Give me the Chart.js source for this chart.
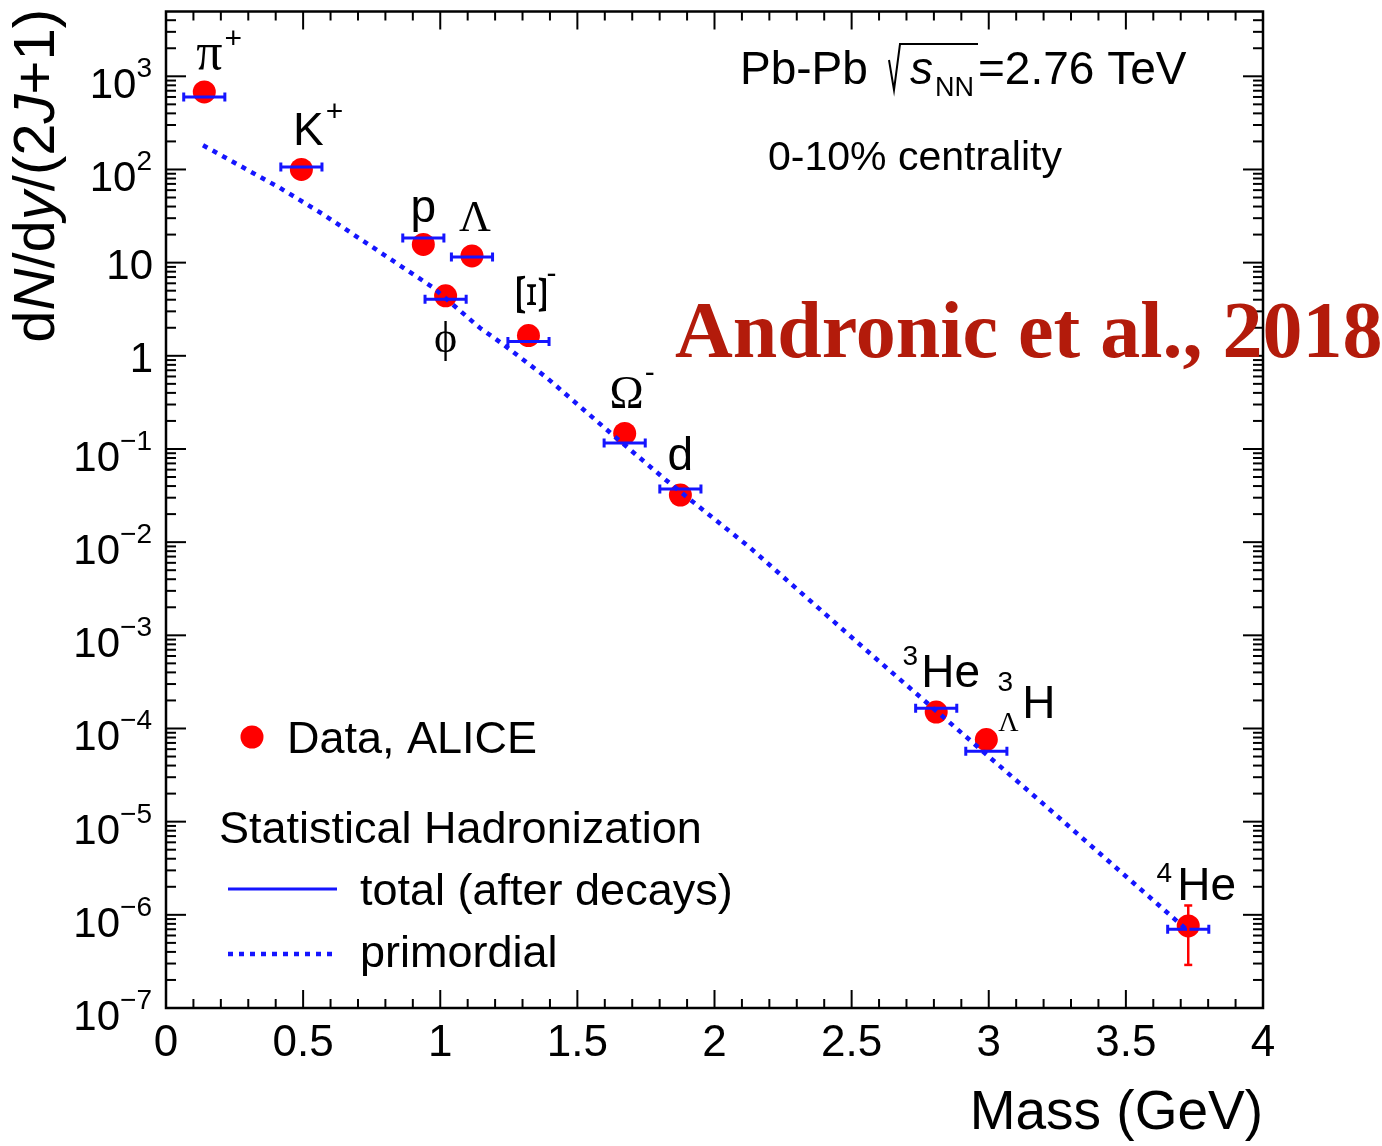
<!DOCTYPE html>
<html lang="en">
<head>
<meta charset="UTF-8">
<title>Hadron yields vs mass - Pb-Pb 2.76 TeV</title>
<script src="https://cdn.jsdelivr.net/npm/chart.js@4"></script>
<style>
  html, body { margin: 0; padding: 0; background: #fff; }
  #wrap { width: 1382px; height: 1146px; position: relative; }
</style>
</head>
<body>
<div id="wrap"><canvas id="yields"></canvas></div>
<script>
// species, mass (GeV) and yield dN/dy/(2J+1)
const particles = ['π+', 'K+', 'p', 'ϕ', 'Λ', 'Ξ-', 'Ω-', 'd', '3He', '3ΛH', '4He'];
const mass = [0.1396, 0.4937, 0.9383, 1.0195, 1.1157, 1.3217, 1.6725, 1.8756, 2.8084, 2.9912, 3.7274];
const dataYield = [679, 100, 15.7, 4.4, 11.8, 1.65, 0.147, 0.032, 1.5e-4, 7.6e-5, 7.6e-7];
const errLow = [null, null, null, null, null, null, null, null, null, null, 2.9e-7];
const errHigh = [null, null, null, null, null, null, null, null, null, null, 1.26e-6];
// statistical hadronization model, total after decays
const modelTotal = [600, 106, 18.4, 4.05, 11.5, 1.42, 0.116, 0.0373, 1.65e-4, 5.7e-5, 7.0e-7];
const barHalfWidth = 0.075;
// primordial curve
const primMass = [0.135, 0.415, 0.573, 0.792, 0.974, 1.144, 1.229, 1.387, 1.618, 1.825, 2.128, 2.54, 3.197, 3.72];
const primYield = [182, 63.5, 33, 12.3, 5.4, 2.0, 1.33, 0.586, 0.151, 0.0458, 8.8e-3, 7.5e-4, 1.57e-5, 7.0e-7];
// axes
const xTicks = [0, 0.5, 1, 1.5, 2, 2.5, 3, 3.5, 4];
const yDecades = [-7, -6, -5, -4, -3, -2, -1, 0, 1, 2, 3];

const BLUE = '#1515ff';
const RED = '#ff0000';
const SANS = '"Liberation Sans", Arial, Helvetica, sans-serif';
const SERIF = '"Liberation Serif", "Times New Roman", serif';

const totalSegments = [];
mass.forEach((m, i) => {
  totalSegments.push({x: m - barHalfWidth, y: modelTotal[i]});
  totalSegments.push({x: m + barHalfWidth, y: modelTotal[i]});
  totalSegments.push({x: m, y: null});
});

function txt(ctx, s, x, y, font, align) {
  ctx.font = font;
  ctx.textAlign = align || 'center';
  ctx.fillText(s, x, y);
}

// draw a row of text pieces with different fonts
function rich(ctx, parts, x, y, align) {
  ctx.textAlign = 'left';
  let w = 0;
  parts.forEach(p => { ctx.font = p.f; p.w = ctx.measureText(p.t).width; w += p.w; });
  let cx = align === 'right' ? x - w : align === 'center' ? x - w / 2 : x;
  parts.forEach(p => { ctx.font = p.f; ctx.fillText(p.t, cx, y + (p.dy || 0)); cx += p.w; });
}

function seg(ctx, x1, y1, x2, y2) {
  ctx.beginPath(); ctx.moveTo(x1, y1); ctx.lineTo(x2, y2); ctx.stroke();
}

const rootStyle = {
  id: 'rootStyle',
  afterDatasetsDraw(chart) {
    const {ctx, scales: {x, y}} = chart;
    ctx.save();
    ctx.strokeStyle = RED;
    ctx.lineWidth = 2.5;
    mass.forEach((m, i) => {
      if (errLow[i] == null) return;
      const px = x.getPixelForValue(m);
      const y1 = y.getPixelForValue(errLow[i]);
      const y2 = y.getPixelForValue(errHigh[i]);
      seg(ctx, px, y1, px, y2);
      seg(ctx, px - 4, y1, px + 4, y1);
      seg(ctx, px - 4, y2, px + 4, y2);
    });
    ctx.restore();
  },
  afterDraw(chart) {
    const {ctx, chartArea: a, scales: {x, y}} = chart;
    ctx.save();
    ctx.fillStyle = '#000';
    ctx.strokeStyle = '#000';
    ctx.textBaseline = 'alphabetic';

    // frame
    ctx.lineWidth = 2.5;
    ctx.strokeRect(a.left, a.top, a.right - a.left, a.bottom - a.top);

    // ticks, inside on all four sides
    ctx.lineWidth = 2;
    for (let k = 0; k <= 40; k++) {
      const px = x.getPixelForValue(k / 10);
      const len = k % 5 === 0 ? 18 : 9;
      seg(ctx, px, a.bottom, px, a.bottom - len);
      seg(ctx, px, a.top, px, a.top + len);
    }
    yDecades.forEach(d => {
      for (let k = 1; k <= 9; k++) {
        const v = k * Math.pow(10, d);
        if (v > y.max) break;
        const py = y.getPixelForValue(v);
        const len = k === 1 ? 20 : 10;
        seg(ctx, a.left, py, a.left + len, py);
        seg(ctx, a.right, py, a.right - len, py);
      }
    });

    // tick labels
    xTicks.forEach(v => {
      txt(ctx, String(v), x.getPixelForValue(v), 1056, '44px ' + SANS, 'center');
    });
    yDecades.forEach(d => {
      const py = y.getPixelForValue(Math.pow(10, d));
      if (d === 0) rich(ctx, [{t: '1', f: '42px ' + SANS}], 153, py + 16, 'right');
      else if (d === 1) rich(ctx, [{t: '10', f: '42px ' + SANS}], 153, py + 16, 'right');
      else rich(ctx, [
        {t: '10', f: '42px ' + SANS},
        {t: d < 0 ? '\u2212' + (-d) : String(d), f: '28px ' + SANS, dy: -21}
      ], 152, py + 22, 'right');
    });

    // axis titles
    rich(ctx, [{t: 'Mass (GeV)', f: '55px ' + SANS}], 1263, 1129, 'right');
    ctx.save();
    ctx.translate(54, 9);
    ctx.rotate(-Math.PI / 2);
    const f = '58px ' + SANS, fi = 'italic 58px ' + SANS;
    rich(ctx, [{t: 'd', f}, {t: 'N', f: fi}, {t: '/d', f}, {t: 'y', f: fi},
               {t: '/(2', f}, {t: 'J', f: fi}, {t: '+1)', f}], 0, 0, 'right');
    ctx.restore();

    // particle labels next to the data points
    const P = i => ({x: x.getPixelForValue(mass[i]), y: y.getPixelForValue(dataYield[i])});
    const big = '46px ' + SANS, sup = '30px ' + SANS, gk = '46px ' + SERIF;
    let p = P(0);
    txt(ctx, 'π', p.x + 5, p.y - 23, '52px ' + SERIF);
    txt(ctx, '+', p.x + 29, p.y - 44, sup);
    p = P(1);
    txt(ctx, 'K', p.x + 7, p.y - 24, big);
    txt(ctx, '+', p.x + 33, p.y - 48, sup);
    p = P(2);
    txt(ctx, 'p', p.x, p.y - 22, big);
    p = P(3);
    txt(ctx, 'ϕ', p.x, p.y + 56, '44px ' + SERIF);
    p = P(4);
    txt(ctx, 'Λ', p.x + 3, p.y - 25, '44px ' + SERIF);
    p = P(5);
    ctx.save();
    ctx.translate(p.x, p.y - 41);
    ctx.rotate(Math.PI / 2);
    ctx.scale(1.6, 1);
    ctx.textBaseline = 'middle';
    txt(ctx, 'Ξ', 0, 0, '44px ' + SERIF);
    ctx.restore();
    txt(ctx, '-', p.x + 23, p.y - 53, sup);
    p = P(6);
    txt(ctx, 'Ω', p.x + 2, p.y - 25, gk);
    txt(ctx, '-', p.x + 25, p.y - 51, sup);
    p = P(7);
    txt(ctx, 'd', p.x, p.y - 25, big);
    p = P(8);
    txt(ctx, '3', p.x - 26, p.y - 47, '28px ' + SANS);
    txt(ctx, 'He', p.x - 15, p.y - 25, big, 'left');
    p = P(9);
    txt(ctx, '3', p.x + 19, p.y - 49, '28px ' + SANS);
    txt(ctx, 'Λ', p.x + 22, p.y - 9, '28px ' + SERIF);
    txt(ctx, 'H', p.x + 36, p.y - 22, big, 'left');
    p = P(10);
    txt(ctx, '4', p.x - 24, p.y - 44, '28px ' + SANS);
    txt(ctx, 'He', p.x - 11, p.y - 26, big, 'left');

    // legend
    ctx.fillStyle = RED;
    ctx.beginPath(); ctx.arc(252, 737, 11.5, 0, Math.PI * 2); ctx.fill();
    ctx.fillStyle = '#000';
    txt(ctx, 'Data, ALICE', 287, 753, '45px ' + SANS, 'left');
    txt(ctx, 'Statistical Hadronization', 219, 843, '45px ' + SANS, 'left');
    ctx.strokeStyle = BLUE;
    ctx.lineWidth = 3;
    seg(ctx, 228, 889, 337, 889);
    txt(ctx, 'total (after decays)', 360, 905, '45px ' + SANS, 'left');
    ctx.lineWidth = 4.5;
    ctx.setLineDash([5, 6]);
    seg(ctx, 228, 954, 335, 954);
    ctx.setLineDash([]);
    txt(ctx, 'primordial', 360, 967, '45px ' + SANS, 'left');

    // collision system
    ctx.strokeStyle = '#000';
    txt(ctx, 'Pb-Pb', 740, 84, '46px ' + SANS, 'left');
    ctx.lineWidth = 2;
    ctx.beginPath();
    ctx.moveTo(889, 60); ctx.lineTo(894, 90); ctx.lineTo(900, 44); ctx.lineTo(978, 44);
    ctx.stroke();
    txt(ctx, 's', 910, 84, 'italic 46px ' + SANS, 'left');
    txt(ctx, 'NN', 935, 96, '27px ' + SANS, 'left');
    txt(ctx, '=2.76 TeV', 978, 84, '46px ' + SANS, 'left');
    txt(ctx, '0-10% centrality', 768, 170, '41px ' + SANS, 'left');

    // citation
    ctx.fillStyle = '#b31b0b';
    txt(ctx, 'Andronic et al., 2018', 675, 357, 'bold 80px ' + SERIF, 'left');
    ctx.restore();
  }
};

new Chart(document.getElementById('yields'), {
  type: 'scatter',
  data: {
    datasets: [
      {
        label: 'total (after decays)',
        data: totalSegments,
        showLine: true,
        spanGaps: false,
        borderColor: BLUE,
        borderWidth: 3,
        pointStyle: 'line',
        pointRotation: 90,
        pointRadius: 4.5,
        pointBorderColor: BLUE,
        pointBorderWidth: 3,
        order: 0
      },
      {
        label: 'primordial',
        data: primMass.map((m, i) => ({x: m, y: primYield[i]})),
        showLine: true,
        borderColor: BLUE,
        borderWidth: 4.5,
        borderDash: [5, 6],
        pointRadius: 0,
        order: 1
      },
      {
        label: 'Data, ALICE',
        data: mass.map((m, i) => ({x: m, y: dataYield[i]})),
        pointRadius: 11.5,
        backgroundColor: RED,
        borderWidth: 0,
        order: 2
      }
    ]
  },
  options: {
    responsive: true,
    maintainAspectRatio: false,
    animation: false,
    events: [],
    layout: {padding: {left: 166, top: 10, right: 119, bottom: 138}},
    scales: {
      x: {type: 'linear', min: 0, max: 4, display: false},
      y: {type: 'logarithmic', min: 1e-7, max: 4960, display: false}
    },
    plugins: {legend: {display: false}, tooltip: {enabled: false}}
  },
  plugins: [rootStyle]
});
</script>
</body>
</html>
